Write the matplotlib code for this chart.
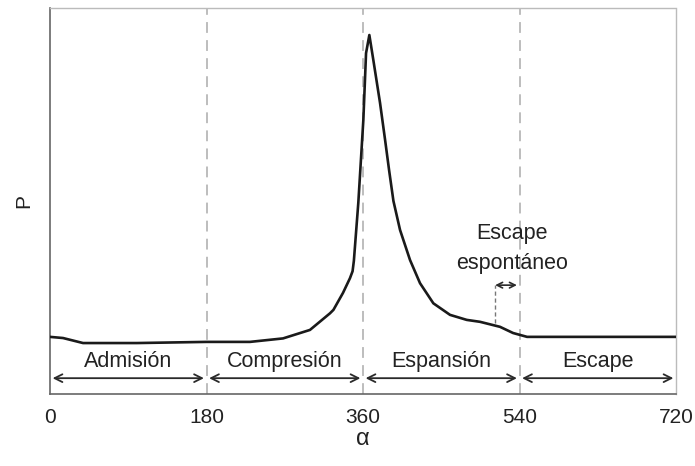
import matplotlib.pyplot as plt
import numpy as np

plt.rcParams['font.family'] = ['Liberation Sans', 'DejaVu Sans']

# pressure curve (angle in degrees, relative pressure)
alpha = [0, 15, 38, 100, 180, 230, 268, 299, 322, 326, 337, 345, 348, 349.5,
         354.6, 360.4, 363.5, 367.3, 371.9, 379.6, 385.3, 390, 395, 402.6,
         414.1, 425.6, 440.9, 460.1, 479.3, 494.6, 517.6, 532.6, 548.7, 720]
pres = [0.148, 0.145, 0.132, 0.132, 0.135, 0.135, 0.144, 0.166, 0.209, 0.218,
        0.262, 0.300, 0.318, 0.345, 0.495, 0.710, 0.883, 0.930, 0.865, 0.754,
        0.660, 0.580, 0.500, 0.425, 0.347, 0.287, 0.235, 0.205, 0.192, 0.187,
        0.174, 0.158, 0.148, 0.148]

phase_bounds = [0, 180, 360, 540, 720]
phase_names = ['Admisión', 'Compresión', 'Espansión', 'Escape']
xticks = [0, 180, 360, 540, 720]

fig = plt.figure(figsize=(6.95, 4.66), dpi=100)
ax = fig.add_axes([50 / 695, 72 / 466, 626 / 695, 386 / 466])

# phase boundaries
for b in phase_bounds[1:-1]:
    ax.axvline(b, color='#b8b8b8', lw=1.3, ls=(0, (6, 4)), zorder=1)

ax.plot(alpha, pres, color='#1a1a1a', lw=1.9, zorder=3,
        solid_joinstyle='round', solid_capstyle='round')

# phase arrows and labels
for i, name in enumerate(phase_names):
    x0, x1 = phase_bounds[i], phase_bounds[i + 1]
    ax.annotate('', xy=(x1 - 3, 0.041), xytext=(x0 + 3, 0.041),
                arrowprops=dict(arrowstyle='<->', color='#2a2a2a', lw=1.3,
                                shrinkA=0, shrinkB=0, mutation_scale=14))
    ax.text((x0 + x1) / 2, 0.083, name, ha='center', va='center',
            fontsize=15.5, color='#222222')

# escape espontaneo
ax.plot([512, 512], [0.184, 0.282], color='#777777', lw=1, ls=(0, (3, 2)))
ax.annotate('', xy=(537, 0.282), xytext=(512, 0.282),
            arrowprops=dict(arrowstyle='<->', color='#2a2a2a', lw=1.2,
                            shrinkA=0, shrinkB=0, mutation_scale=10))
ax.text(531, 0.417, 'Escape', ha='center', va='center', fontsize=15.5, color='#222222')
ax.text(531, 0.339, 'espontáneo', ha='center', va='center', fontsize=15.5, color='#222222')

ax.set_xlim(0, 720)
ax.set_ylim(0, 1)
ax.set_xticks(xticks)
ax.set_xticklabels([str(t) for t in xticks])
ax.set_yticks([])
ax.tick_params(axis='x', length=0, pad=10, labelsize=15, labelcolor='#222222')

for s in ['left', 'bottom']:
    ax.spines[s].set_color('#666666')
    ax.spines[s].set_linewidth(1.2)
for s in ['top', 'right']:
    ax.spines[s].set_color('#bbbbbb')
    ax.spines[s].set_linestyle((0, (1, 1)))
    ax.spines[s].set_linewidth(1)

ax.set_ylabel('P', fontsize=15, color='#222222', labelpad=12)
ax.set_xlabel('α', fontsize=17, color='#222222', labelpad=1)

fig.savefig('out.png', dpi=100)
